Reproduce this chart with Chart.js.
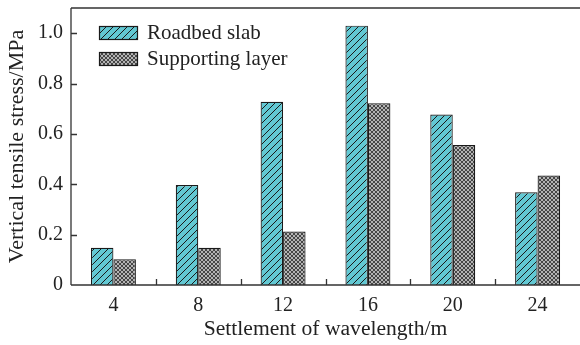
<!DOCTYPE html>
<html>
<head>
<meta charset="utf-8">
<script src="https://cdn.jsdelivr.net/npm/chart.js@4/dist/chart.umd.min.js"></script>
<style>
  html, body { margin: 0; padding: 0; background: #fff; }
  #wrap { width: 580px; height: 345px; position: relative; }
</style>
</head>
<body>
<div id="wrap"><canvas id="stressChart"></canvas></div>
<script>
// data
const wavelengths = ['4', '8', '12', '16', '20', '24'];
const roadbedSlab = [0.148, 0.397, 0.728, 1.03, 0.677, 0.368];
const supportingLayer = [0.102, 0.148, 0.212, 0.722, 0.556, 0.435];
const yTicks = [0, 0.2, 0.4, 0.6, 0.8, 1.0];

const FONT = '"Liberation Serif", "Times New Roman", serif';
const AXIS = '#333';

function hatchPattern() {
  const c = document.createElement('canvas');
  c.width = 7; c.height = 7;
  const g = c.getContext('2d');
  g.fillStyle = '#62c8d3';
  g.fillRect(0, 0, 7, 7);
  g.strokeStyle = '#1a1a1a';
  g.lineWidth = 1;
  g.beginPath();
  g.moveTo(-1, 8); g.lineTo(8, -1);
  g.moveTo(-1, 1); g.lineTo(1, -1);
  g.moveTo(6, 8); g.lineTo(8, 6);
  g.stroke();
  return g.createPattern(c, 'repeat');
}

function crossPattern() {
  const c = document.createElement('canvas');
  c.width = 4; c.height = 4;
  const g = c.getContext('2d');
  g.fillStyle = '#b4b4b4';
  g.fillRect(0, 0, 4, 4);
  g.strokeStyle = '#2a2a2a';
  g.lineWidth = 0.8;
  g.beginPath();
  g.moveTo(0, 0); g.lineTo(4, 4);
  g.moveTo(4, 0); g.lineTo(0, 4);
  g.stroke();
  return g.createPattern(c, 'repeat');
}

// inward ticks, frame lines and the boxed legend
const framePlugin = {
  id: 'frame',
  afterDraw(chart) {
    const ctx = chart.ctx;
    const a = chart.chartArea;
    const x = chart.scales.x, y = chart.scales.y;
    ctx.save();
    ctx.strokeStyle = AXIS;
    ctx.lineWidth = 1.3;
    ctx.beginPath();
    ctx.moveTo(a.left, a.top); ctx.lineTo(a.right, a.top);
    ctx.moveTo(a.left, a.top); ctx.lineTo(a.left, a.bottom);
    ctx.moveTo(a.left, a.bottom); ctx.lineTo(a.right, a.bottom);
    yTicks.forEach(v => {
      if (v === 0) return;
      const py = Math.round(y.getPixelForValue(v)) + 0.5;
      ctx.moveTo(a.left, py); ctx.lineTo(a.left + 6, py);
    });
    for (let i = 1; i < wavelengths.length; i++) {
      const px = Math.round((x.getPixelForValue(i - 1) + x.getPixelForValue(i)) / 2) + 0.5;
      ctx.moveTo(px, a.bottom); ctx.lineTo(px, a.bottom - 6);
    }
    ctx.stroke();

    // legend
    ctx.font = '21px ' + FONT;
    ctx.textBaseline = 'middle';
    chart.data.datasets.forEach((ds, i) => {
      const bx = 99.5, by = 26.5 + i * 26;
      ctx.fillStyle = ds.backgroundColor;
      ctx.fillRect(bx, by, 38, 13);
      ctx.strokeStyle = '#1a1a1a';
      ctx.lineWidth = 1.2;
      ctx.strokeRect(bx, by, 38, 13);
      ctx.fillStyle = '#222';
      ctx.fillText(ds.label, 147, by + 7);
    });
    ctx.restore();
  }
};

const ctx = document.getElementById('stressChart');
new Chart(ctx, {
  type: 'bar',
  data: {
    labels: wavelengths,
    datasets: [
      {
        label: 'Roadbed slab',
        data: roadbedSlab,
        backgroundColor: hatchPattern(),
        borderColor: '#1a1a1a',
        borderWidth: 1.2
      },
      {
        label: 'Supporting layer',
        data: supportingLayer,
        backgroundColor: crossPattern(),
        borderColor: '#1a1a1a',
        borderWidth: 1.2
      }
    ]
  },
  options: {
    responsive: true,
    maintainAspectRatio: false,
    animation: false,
    layout: { padding: { top: 8, right: 0, left: 0, bottom: 0 } },
    datasets: {
      bar: { categoryPercentage: 0.53, barPercentage: 1.0 }
    },
    plugins: {
      legend: { display: false },
      tooltip: { enabled: false }
    },
    scales: {
      x: {
        grid: { display: false, drawTicks: false },
        border: { display: false },
        ticks: { color: '#222', font: { family: FONT, size: 20 }, padding: 9 },
        title: {
          display: true,
          text: 'Settlement of wavelength/m',
          color: '#222',
          font: { family: FONT, size: 21.6 },
          padding: { top: 0, bottom: 3 }
        },
        afterFit(scale) { scale.height = 60; }
      },
      y: {
        min: 0,
        max: 1.1,
        grid: { display: false, drawTicks: false },
        border: { display: false },
        afterBuildTicks(scale) { scale.ticks = yTicks.map(v => ({ value: v })); },
        ticks: {
          color: '#222',
          font: { family: FONT, size: 20 },
          padding: 8,
          callback: v => (v === 0 ? '0' : v.toFixed(1))
        },
        title: {
          display: true,
          text: 'Vertical tensile stress/MPa',
          color: '#222',
          font: { family: FONT, size: 22 },
          padding: { top: 4, bottom: 0 }
        },
        afterFit(scale) {
          scale.width = 71;
          scale.paddingTop = 0;
          scale.paddingBottom = 0;
        }
      }
    }
  },
  plugins: [framePlugin]
});
</script>
</body>
</html>
